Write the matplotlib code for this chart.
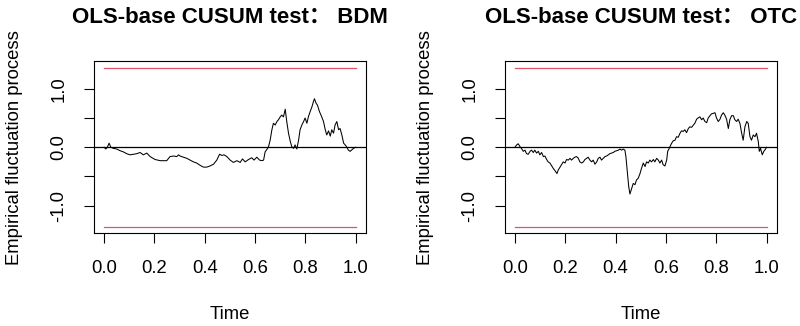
import matplotlib
matplotlib.use('Agg')
import matplotlib.pyplot as plt

# ================= data =================
# OLS-based CUSUM empirical fluctuation process
bdm_t = [0.000, 0.007, 0.013, 0.020, 0.027, 0.037, 0.050, 0.064, 0.077, 0.090,
         0.103, 0.117, 0.130, 0.143, 0.156, 0.170, 0.183, 0.203, 0.223, 0.236,
         0.249, 0.262, 0.276, 0.289, 0.296, 0.302, 0.315, 0.329, 0.342, 0.355,
         0.368, 0.382, 0.395, 0.408, 0.421, 0.435, 0.448, 0.459, 0.468, 0.477,
         0.488, 0.501, 0.514, 0.528, 0.541, 0.550, 0.561, 0.574, 0.587, 0.596,
         0.607, 0.618, 0.627, 0.634, 0.640, 0.653, 0.660, 0.667, 0.673, 0.680,
         0.687, 0.693, 0.700, 0.706, 0.713, 0.720, 0.726, 0.733, 0.740, 0.746,
         0.753, 0.759, 0.766, 0.773, 0.779, 0.786, 0.793, 0.799, 0.806, 0.812,
         0.819, 0.826, 0.832, 0.836, 0.843, 0.848, 0.856, 0.865, 0.872, 0.879,
         0.885, 0.892, 0.899, 0.905, 0.912, 0.918, 0.925, 0.932, 0.938, 0.945,
         0.952, 0.962, 0.971, 0.978, 0.991, 1.000]
bdm_v = [0.00, -0.03, 0.00, 0.07, 0.00, -0.02, -0.03, -0.06, -0.08, -0.11,
         -0.13, -0.12, -0.11, -0.09, -0.13, -0.10, -0.16, -0.21, -0.23, -0.23,
         -0.23, -0.16, -0.15, -0.16, -0.13, -0.15, -0.17, -0.19, -0.22, -0.25,
         -0.27, -0.31, -0.34, -0.34, -0.32, -0.29, -0.22, -0.12, -0.14, -0.13,
         -0.16, -0.22, -0.26, -0.23, -0.26, -0.20, -0.25, -0.21, -0.18, -0.22,
         -0.17, -0.22, -0.23, -0.22, -0.08, 0.00, 0.12, 0.30, 0.41, 0.38,
         0.44, 0.47, 0.52, 0.55, 0.52, 0.65, 0.44, 0.24, 0.10, 0.01,
         -0.02, 0.04, -0.03, 0.12, 0.30, 0.38, 0.44, 0.50, 0.41, 0.52,
         0.61, 0.69, 0.78, 0.83, 0.75, 0.72, 0.61, 0.52, 0.44, 0.30,
         0.21, 0.28, 0.19, 0.30, 0.24, 0.38, 0.44, 0.30, 0.32, 0.21,
         0.07, 0.02, -0.05, -0.07, -0.02, 0.00]

otc_t = [0.000, 0.007, 0.013, 0.020, 0.026, 0.033, 0.040, 0.046, 0.053, 0.060,
         0.066, 0.073, 0.079, 0.086, 0.093, 0.099, 0.106, 0.113, 0.119, 0.126,
         0.132, 0.139, 0.146, 0.152, 0.159, 0.167, 0.172, 0.179, 0.185, 0.192,
         0.199, 0.205, 0.212, 0.219, 0.225, 0.232, 0.238, 0.245, 0.252, 0.258,
         0.265, 0.272, 0.278, 0.285, 0.291, 0.298, 0.305, 0.311, 0.318, 0.325,
         0.331, 0.338, 0.344, 0.351, 0.358, 0.364, 0.371, 0.377, 0.384, 0.391,
         0.397, 0.404, 0.411, 0.417, 0.424, 0.430, 0.437, 0.441, 0.446, 0.452,
         0.457, 0.464, 0.470, 0.477, 0.483, 0.490, 0.497, 0.503, 0.510, 0.517,
         0.523, 0.530, 0.536, 0.543, 0.550, 0.556, 0.563, 0.570, 0.576, 0.583,
         0.589, 0.596, 0.603, 0.607, 0.612, 0.616, 0.623, 0.629, 0.636, 0.642,
         0.649, 0.656, 0.662, 0.669, 0.675, 0.682, 0.689, 0.695, 0.702, 0.709,
         0.715, 0.722, 0.728, 0.735, 0.742, 0.748, 0.755, 0.762, 0.768, 0.775,
         0.781, 0.788, 0.795, 0.801, 0.808, 0.815, 0.821, 0.828, 0.834, 0.841,
         0.848, 0.854, 0.861, 0.868, 0.874, 0.881, 0.887, 0.894, 0.901, 0.907,
         0.914, 0.921, 0.927, 0.934, 0.940, 0.947, 0.954, 0.960, 0.967, 0.971,
         0.976, 0.983, 0.989, 0.996, 1.000]
otc_v = [0.00, 0.04, 0.06, 0.01, -0.02, -0.07, -0.05, -0.11, -0.12, -0.07,
         -0.05, -0.09, -0.05, -0.10, -0.07, -0.13, -0.09, -0.16, -0.15, -0.21,
         -0.25, -0.27, -0.32, -0.36, -0.40, -0.45, -0.39, -0.34, -0.30, -0.25,
         -0.27, -0.21, -0.22, -0.19, -0.22, -0.19, -0.17, -0.16, -0.19, -0.25,
         -0.27, -0.25, -0.21, -0.19, -0.17, -0.22, -0.25, -0.22, -0.29, -0.25,
         -0.19, -0.17, -0.22, -0.19, -0.16, -0.15, -0.13, -0.11, -0.10, -0.09,
         -0.07, -0.06, -0.05, -0.03, -0.05, -0.03, -0.05, -0.16, -0.39, -0.67,
         -0.80, -0.70, -0.62, -0.64, -0.56, -0.53, -0.45, -0.36, -0.27, -0.33,
         -0.25, -0.27, -0.22, -0.25, -0.21, -0.25, -0.19, -0.22, -0.27, -0.22,
         -0.30, -0.32, -0.22, -0.07, -0.03, 0.01, 0.07, 0.11, 0.12, 0.18,
         0.17, 0.24, 0.28, 0.27, 0.30, 0.25, 0.32, 0.35, 0.34, 0.38,
         0.41, 0.48, 0.50, 0.52, 0.47, 0.50, 0.44, 0.42, 0.50, 0.54,
         0.57, 0.58, 0.59, 0.50, 0.44, 0.48, 0.55, 0.59, 0.55, 0.48,
         0.32, 0.47, 0.54, 0.54, 0.47, 0.44, 0.48, 0.41, 0.24, 0.12,
         0.35, 0.44, 0.41, 0.18, 0.12, 0.21, 0.18, 0.24, 0.10, -0.07,
         -0.02, -0.13, -0.07, -0.03, 0.00]

boundary = 1.358          # 5% critical value
names = ['BDM', 'OTC']
x_ticks = [0.0, 0.2, 0.4, 0.6, 0.8, 1.0]
y_ticks = [-1.0, -0.5, 0.0, 0.5, 1.0]
y_labels = ['-1.0', '', '0.0', '', '1.0']
# =========================================

plt.rcParams['font.family'] = ['Liberation Sans', 'Noto Sans CJK SC']
plt.rcParams['font.size'] = 13.3

RED = '#DF536B'
fig = plt.figure(figsize=(8, 3.26), dpi=100)

panels = [(0.1175, bdm_t, bdm_v, names[0]),
          (0.6311, otc_t, otc_v, names[1])]

for left, t, v, name in panels:
    ax = fig.add_axes([left, 0.2853, 0.3397, 0.5261])
    ax.plot(t, v, color='black', linewidth=0.75)
    ax.plot([0, 1], [boundary, boundary], color=RED, linewidth=0.9)
    ax.plot([0, 1], [-boundary, -boundary], color=RED, linewidth=0.9)
    ax.axhline(0, color='black', linewidth=0.9)

    ax.set_xlim(-0.04, 1.04)
    ax.set_ylim(-boundary * 1.08, boundary * 1.08)
    ax.set_xticks(x_ticks)
    ax.set_xticklabels([f'{x:.1f}' for x in x_ticks])
    ax.set_yticks(y_ticks)
    ax.set_yticklabels(y_labels, rotation=90, va='center')
    ax.tick_params(direction='out', length=7.2, width=0.8, pad=12)
    for s in ax.spines.values():
        s.set_linewidth(0.8)

    ax.text(0.5, -0.478, 'Time', transform=ax.transAxes,
            ha='center', va='center')
    ax.text(-0.291, 0.5, 'Empirical fluctuation process', transform=ax.transAxes,
            rotation=90, ha='center', va='center')
    ax.text(0.5, 1.26, f'OLS-base CUSUM test： {name}', transform=ax.transAxes,
            ha='center', va='center', fontsize=16, fontweight='bold')

plt.savefig('out.png', dpi=100)
plt.close()
